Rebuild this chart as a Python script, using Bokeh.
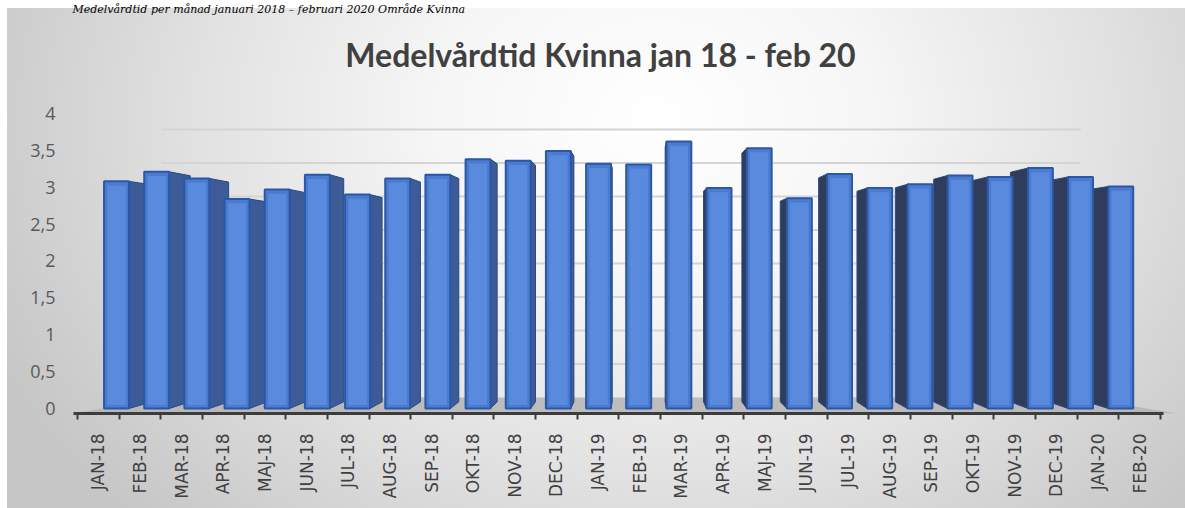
import math
from bokeh.plotting import figure
from bokeh.models import Range1d, LinearAxis, FixedTicker, Label
from bokeh.embed import file_html
from bokeh.resources import INLINE

# ---------------- data ----------------
months = ["JAN-18", "FEB-18", "MAR-18", "APR-18", "MAJ-18", "JUN-18", "JUL-18",
          "AUG-18", "SEP-18", "OKT-18", "NOV-18", "DEC-18", "JAN-19", "FEB-19",
          "MAR-19", "APR-19", "MAJ-19", "JUN-19", "JUL-19", "AUG-19", "SEP-19",
          "OKT-19", "NOV-19", "DEC-19", "JAN-20", "FEB-20"]
values = [3.08, 3.21, 3.12, 2.84, 2.97, 3.17, 2.90, 3.12, 3.17, 3.38, 3.36, 3.49,
          3.32, 3.31, 3.62, 2.99, 3.53, 2.85, 3.18, 2.99, 3.04, 3.16, 3.14, 3.26,
          3.14, 3.01]
y_ticks = [0, 0.5, 1, 1.5, 2, 2.5, 3, 3.5, 4]
y_tick_labels = ["0", "0,5", "1", "1,5", "2", "2,5", "3", "3,5", "4"]
title_text = "Medelvårdtid Kvinna jan 18 - feb 20"
caption_text = "Medelvårdtid per månad januari 2018 – februari 2020 Område Kvinna"

# ---------------- styling / 3D look constants ----------------
n = len(months)
idx = list(range(n))
bar_w = 0.62          # front face width (category units)
vx, vy = 13.0, 2.0    # vanishing point (data units)
k = 0.045             # depth of the columns
wall_k = 0.12         # how much narrower the back wall is

p = figure(width=1185, height=508, output_backend="svg", toolbar_location=None,
           x_range=Range1d(-1.1452, 26.612), y_range=Range1d(-0.0678, 5.5322),
           x_axis_type=None, y_axis_type=None,
           min_border_left=70, min_border_right=0, min_border_top=0,
           min_border_bottom=95)
p.extra_y_ranges = {"wall": Range1d(-0.2388, 5.9254)}
p.extra_x_ranges = {"lab": Range1d(-0.6675, 26.103)}
p.background_fill_color = None
p.border_fill_color = None
p.outline_line_color = None
p.styles = {"background": "radial-gradient(ellipse 62% 115% at 55% 22%, #ffffff 0%, "
                          "#f6f6f6 30%, #e2e2e2 62%, #cdcdcd 90%, #c6c6c6 100%) "
                          "7px 8px / 1178px 500px no-repeat, #ffffff"}

# floor (trapezoid in perspective)
fx0, fx1 = -0.5, n - 0.5
bx0 = vx + (fx0 - vx) * (1 - wall_k)
bx1 = vx + (fx1 - vx) * (1 - wall_k)
ws = p.extra_y_ranges["wall"].start
p.patch(x=[fx0 - 0.55, fx1 + 0.9, bx1, bx0], y=[ws, ws, 0, 0], y_range_name="wall",
        fill_color="#b4b4b4", fill_alpha=0.85, line_color=None)

# back wall gridlines
p.segment(x0=[bx0] * (len(y_ticks) - 1), x1=[bx1] * (len(y_ticks) - 1),
          y0=y_ticks[1:], y1=y_ticks[1:], y_range_name="wall",
          line_color="#d4d4d4", line_width=2)

# side faces
xs, ys, cols = [], [], []
for c, v in zip(idx, values):
    xe = c + bar_w / 2 if c < vx else c - bar_w / 2
    xb = xe + (vx - xe) * k
    xs.append([xe, xe, xb, xb])
    ys.append([0, v, v + (vy - v) * k, vy * k])
    cols.append("#3d5c97" if c < vx else "#2f3d5b")
p.patches(xs=xs, ys=ys, fill_color=cols, line_color="#2a4782", line_width=1)

# front faces
p.vbar(x=idx, top=values, bottom=0, width=bar_w, fill_color="#4b7cd3",
       line_color="#2a57a6", line_width=2)
p.vbar(x=idx, top=[v - 0.05 for v in values], bottom=0.04, width=bar_w * 0.78,
       fill_color="#5a8ade", line_color="#4a7ac9", line_width=1)

# y axis
yax = LinearAxis(ticker=FixedTicker(ticks=y_ticks),
                 major_label_overrides={t: s for t, s in zip(y_ticks, y_tick_labels)})
yax.axis_line_color = None
yax.major_tick_line_color = None
yax.minor_tick_line_color = None
yax.major_label_standoff = 9
yax.major_label_text_font = "Open Sans"
yax.major_label_text_font_size = "18px"
yax.major_label_text_color = "#595959"
p.add_layout(yax, "left")

# x axis
xax = LinearAxis(x_range_name="lab",
                 ticker=FixedTicker(ticks=idx, minor_ticks=[i - 0.5 for i in range(n + 1)]),
                 major_label_overrides={i: m for i, m in zip(idx, months)},
                 bounds=(-0.6, 25.58))
xax.axis_line_color = "#3c3c3c"
xax.axis_line_width = 3
xax.major_tick_line_color = None
xax.major_tick_out = 0
xax.major_tick_in = 0
xax.minor_tick_line_color = "#3c3c3c"
xax.minor_tick_line_width = 2
xax.minor_tick_out = 6
xax.minor_tick_in = 0
xax.major_label_orientation = math.pi / 2
xax.major_label_standoff = 14
xax.major_label_text_font = "DejaVu Sans"
xax.major_label_text_font_size = "17px"
xax.major_label_text_color = "#404040"
p.add_layout(xax, "below")

# title
p.add_layout(Label(x=530, y=359, x_units="screen", y_units="screen", text=title_text,
                   text_align="center", text_baseline="alphabetic",
                   text_font="Lato", text_font_style="bold",
                   text_font_size="32px", text_color="#404040"))

# document caption above the chart (kept small so that it stays fully visible)
p.add_layout(Label(x=2, y=411, x_units="screen", y_units="screen", text=caption_text,
                   text_align="left", text_baseline="top",
                   text_font="DejaVu Serif", text_font_style="italic",
                   text_font_size="11px", text_color="#000000"))

open("out.html", "w").write(file_html(p, INLINE))
